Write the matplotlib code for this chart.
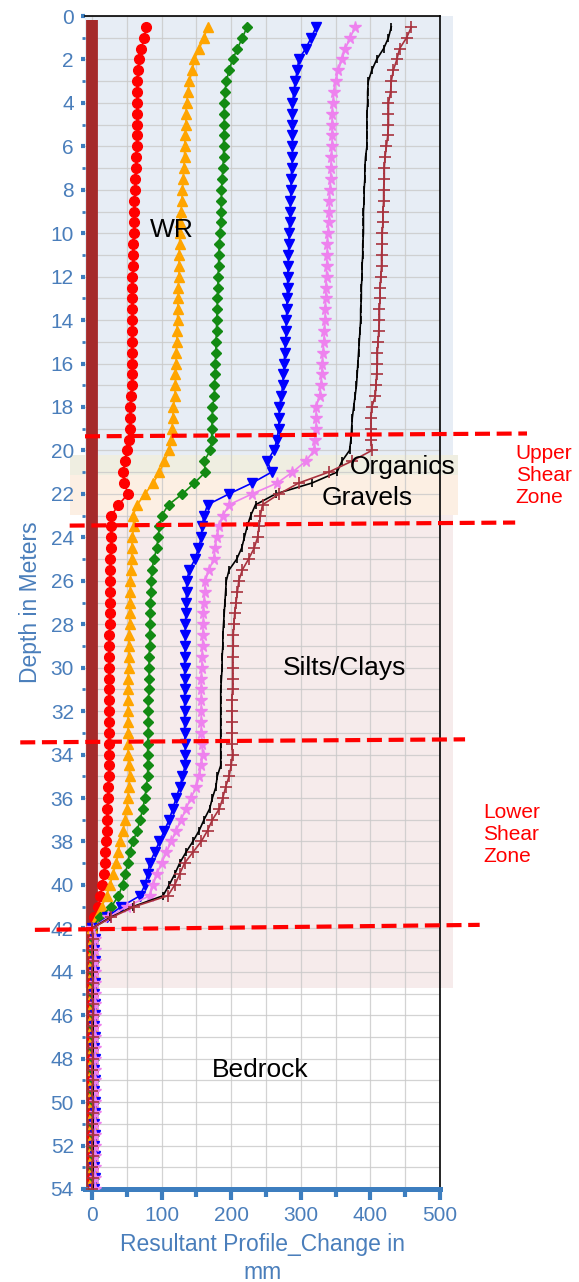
import numpy as np
import matplotlib
matplotlib.use('Agg')
import matplotlib.pyplot as plt
from matplotlib.patches import Rectangle
from matplotlib.ticker import MultipleLocator

plt.rcParams['font.family'] = ['Liberation Sans', 'DejaVu Sans']

# depth of each reading (m)
depth = np.arange(0.5, 54.01, 0.5)

# resultant profile change (mm), one value per depth
red_vals = [78, 75, 71, 68, 66, 65, 65, 65, 64, 65, 64, 64,
            63, 63, 62, 62, 61, 61, 60, 60, 59, 59, 59, 58, 58, 58, 58, 58, 57, 57, 57, 57, 57, 57, 56, 55,
            54, 54, 53, 50, 47, 45, 46, 52, 38, 28, 27, 27, 27, 26,
            26, 26, 26, 26, 26, 26, 25, 25, 25, 25, 25, 25, 24, 24, 24, 24, 24, 24, 24, 24,
            23, 23, 22, 21, 21, 20, 19, 19, 17, 15, 12, 9, 3, 0,
            1, 0, 1, 1, 0, 1, 0, 1, 1, 0, 1, 0, 1, 0, 1, 1, 0, 1, 0, 1, 0, 1, 0, 1]
orange_vals = [166, 161, 154, 147, 144, 140, 138, 136, 135, 135, 134, 133,
               133, 132, 131, 130, 129, 128, 127, 126, 126, 125, 125, 125, 124, 124, 123, 123, 122, 122, 121, 121, 120, 120, 119, 117,
               116, 115, 114, 111, 104, 97, 88, 76, 65, 59, 60, 58, 57, 57,
               56, 55, 55, 54, 54, 54, 53, 53, 53, 53, 52, 52, 52, 52, 52, 52, 52, 52, 53, 54,
               53, 52, 50, 47, 45, 40, 38, 35, 30, 26, 21, 14, 7, 0,
               2, 1, 2, 1, 2, 2, 1, 2, 1, 2, 1, 2, 2, 1, 2, 1, 2, 1, 2, 2, 1, 2, 1, 2]
green_vals = [223, 216, 209, 202, 197, 193, 191, 190, 190, 190, 189, 189,
              189, 188, 187, 186, 186, 185, 185, 184, 183, 182, 182, 181, 181, 180, 180, 179, 179, 178, 178, 177, 177, 176, 176, 173,
              173, 172, 172, 170, 161, 163, 147, 130, 110, 100, 97, 95, 93, 89,
              86, 85, 85, 84, 84, 83, 83, 83, 82, 82, 82, 82, 81, 81, 81, 81, 80, 80, 80, 80,
              78, 76, 73, 69, 65, 59, 54, 52, 47, 44, 38, 28, 11, 0,
              3, 2, 3, 2, 3, 2, 3, 3, 2, 3, 2, 3, 2, 3, 2, 3, 3, 2, 3, 2, 3, 2, 3, 2]
blue_vals = [322, 315, 307, 297, 295, 292, 290, 288, 288, 288, 288, 288,
             288, 287, 286, 286, 285, 285, 284, 283, 283, 282, 282, 281, 281, 280, 280, 279, 279, 278, 277, 276, 275, 274, 272, 269,
             269, 268, 266, 261, 252, 258, 230, 197, 166, 161, 158, 157, 153, 148,
             140, 136, 136, 135, 135, 134, 134, 134, 133, 133, 133, 133, 133, 133, 133, 133, 134, 134, 134, 130,
             126, 121, 116, 111, 104, 97, 90, 83, 80, 76, 69, 42, 21, 0,
             4, 3, 4, 3, 4, 3, 4, 4, 3, 4, 3, 4, 3, 4, 3, 4, 4, 3, 4, 3, 4, 3, 4, 3]
violet_vals = [378, 371, 364, 359, 354, 350, 348, 346, 345, 345, 345, 345,
               344, 343, 343, 342, 341, 341, 340, 339, 338, 338, 337, 337, 336, 336, 335, 335, 334, 333, 332, 331, 330, 329, 327, 322,
               322, 322, 321, 319, 307, 288, 266, 230, 197, 188, 183, 179, 177, 175,
               168, 163, 162, 161, 160, 160, 159, 159, 158, 158, 157, 157, 157, 157, 157, 157, 158, 159, 157, 154,
               150, 142, 135, 128, 121, 114, 107, 100, 93, 88, 83, 50, 23, 0,
               5, 4, 5, 4, 5, 4, 5, 5, 4, 5, 4, 5, 4, 5, 4, 5, 5, 4, 5, 4, 5, 4, 5, 4]
black_vals = [430, 426, 419, 409, 402, 397, 396, 396, 395, 395, 395, 395,
              393, 392, 392, 391, 391, 390, 390, 390, 389, 389, 388, 388, 387, 387, 386, 386, 385, 384, 383, 382, 381, 380, 378, 376,
              374, 373, 372, 370, 359, 352, 316, 264, 235, 228, 223, 219, 215, 208,
              197, 193, 192, 191, 190, 189, 188, 188, 187, 187, 186, 185, 185, 185, 185, 185, 185, 185, 185, 180,
              178, 173, 169, 161, 154, 145, 135, 126, 119, 111, 102, 59, 26, 0,
              2, 1, 2, 1, 2, 1, 2, 2, 1, 2, 1, 2, 1, 2, 1, 2, 2, 1, 2, 1, 2, 1, 2, 1]
maroon_vals = [459, 452, 442, 438, 433, 430, 429, 426, 426, 426, 425, 423,
               421, 420, 420, 419, 419, 418, 418, 417, 417, 416, 416, 415, 414, 414, 413, 413, 412, 411, 410, 410, 409, 408, 407, 402,
               401, 401, 401, 402, 373, 340, 297, 269, 245, 242, 240, 238, 233, 225,
               216, 211, 209, 207, 205, 204, 203, 203, 202, 202, 202, 202, 201, 201, 201, 201, 201, 202, 200, 197,
               192, 188, 183, 173, 166, 157, 145, 133, 126, 119, 109, 61, 28, 0,
               1, 0, 1, 0, 1, 0, 1, 1, 0, 1, 0, 1, 0, 1, 0, 1, 1, 0, 1, 0, 1, 0, 1, 0]

# initial (reference) profile, straight line at zero
base_depth = [0.2, 54.0]
base_vals = [0, 0]

# soil layers (top, bottom depth) and colours
layer_names = ['WR', 'Organics', 'Gravels', 'Silts/Clays']
layer_top = [0.0, 20.2, 21.15, 22.95]
layer_bottom = [20.2, 21.15, 22.95, 44.75]
layer_colors = ['#e7edf5', '#efeee1', '#fcefe3', '#f6ebeb']

# shear zone boundaries (left depth, right depth)
shear_left = [19.35, 23.46, 33.44, 42.07]
shear_right = [19.22, 23.32, 33.30, 41.84]
shear_x0 = [-10, -32, -103, -82]
shear_x1 = [625, 608, 536, 557]

blue_txt = '#4a7ebb'

fig = plt.figure(figsize=(5.79, 12.82), dpi=100)
ax = fig.add_axes([85 / 579, 1 - 1189 / 1282, 355 / 579, 1173 / 1282])

for top, bot, c in zip(layer_top, layer_bottom, layer_colors):
    x0 = -32 if c in ('#efeee1', '#fcefe3') else -10
    x1 = 526 if c in ('#efeee1', '#fcefe3') else 519
    ax.add_patch(Rectangle((x0, top), x1 - x0, bot - top, facecolor=c,
                           edgecolor='none', clip_on=False, zorder=0))

ax.set_xlim(-10, 500)
ax.set_ylim(54, 0)
ax.xaxis.set_major_locator(MultipleLocator(100))
ax.xaxis.set_minor_locator(MultipleLocator(50))
ax.yaxis.set_major_locator(MultipleLocator(2))
ax.yaxis.set_minor_locator(MultipleLocator(1))
ax.grid(True, which='both', color='#c9c9c9', lw=0.9, alpha=0.8, zorder=1)
ax.set_axisbelow(True)

ax.plot(base_vals, base_depth, color='#a52a2a', lw=8.5, solid_capstyle='butt', zorder=2)
ax.plot(red_vals, depth, color='#ff0000', marker='o', ms=7, lw=1.2, zorder=3)
ax.plot(orange_vals, depth, color='#ffa500', marker='^', ms=7, lw=1.2, zorder=3)
ax.plot(green_vals, depth, color='#138a13', marker='D', ms=5.5, lw=1.2, zorder=3)
ax.plot(blue_vals, depth, color='#0000ff', marker='v', ms=7.5, lw=1.2, zorder=3)
ax.plot(violet_vals, depth, color='#ee82ee', marker='*', ms=8.5, lw=1.2, zorder=3)
ax.plot(black_vals, depth, color='black', marker='|', ms=6, mew=1.2, lw=1.2, zorder=3)
ax.plot(maroon_vals, depth, color='#a8323e', marker='+', ms=9, mew=1.2, lw=1.2, zorder=3)

for yl, yr, x0, x1 in zip(shear_left, shear_right, shear_x0, shear_x1):
    ax.plot([x0, x1], [yl, yr], color='#ff0000', lw=3, dashes=(3.6, 1.6),
            clip_on=False, zorder=5)

ax.text(83, 9.86, layer_names[0], fontsize=19, va='center', ha='left', zorder=6)
ax.text(371, 20.74, layer_names[1], fontsize=19, va='center', ha='left', zorder=6)
ax.text(330, 22.2, layer_names[2], fontsize=19, va='center', ha='left', zorder=6)
ax.text(274, 30.0, layer_names[3], fontsize=19, va='center', ha='left', zorder=6)
ax.text(172, 48.5, 'Bedrock', fontsize=19, va='center', ha='left', zorder=6)
ax.text(609, 19.7, 'Upper\nShear\nZone', fontsize=15, color='#ff0000',
        va='top', ha='left', linespacing=1.2)
ax.text(562, 36.25, 'Lower\nShear\nZone', fontsize=15, color='#ff0000',
        va='top', ha='left', linespacing=1.2)

for side in ['top', 'right']:
    ax.spines[side].set_color('black')
    ax.spines[side].set_linewidth(1.2)
ax.spines['left'].set_visible(False)
ax.spines['bottom'].set_color('#3d7ebf')
ax.spines['bottom'].set_linewidth(3.6)

ax.tick_params(axis='x', which='major', length=8, width=3, color='#3d7ebf',
               labelsize=15, labelcolor=blue_txt, pad=4)
ax.tick_params(axis='x', which='minor', length=6, width=3, color='#3d7ebf')
ax.tick_params(axis='y', which='major', length=3, width=3, color='#3d7ebf',
               labelsize=15, labelcolor=blue_txt, pad=5)
ax.tick_params(axis='y', which='minor', length=2, width=2, color='#3d7ebf')

ax.set_xlabel('Resultant Profile_Change in\nmm', fontsize=16.5, color=blue_txt,
              linespacing=1.3, labelpad=6)
ax.set_ylabel('Depth in Meters', fontsize=16.5, color=blue_txt)
ax.yaxis.set_label_coords(-0.12, 0.5)

fig.savefig('out.png', dpi=100)
